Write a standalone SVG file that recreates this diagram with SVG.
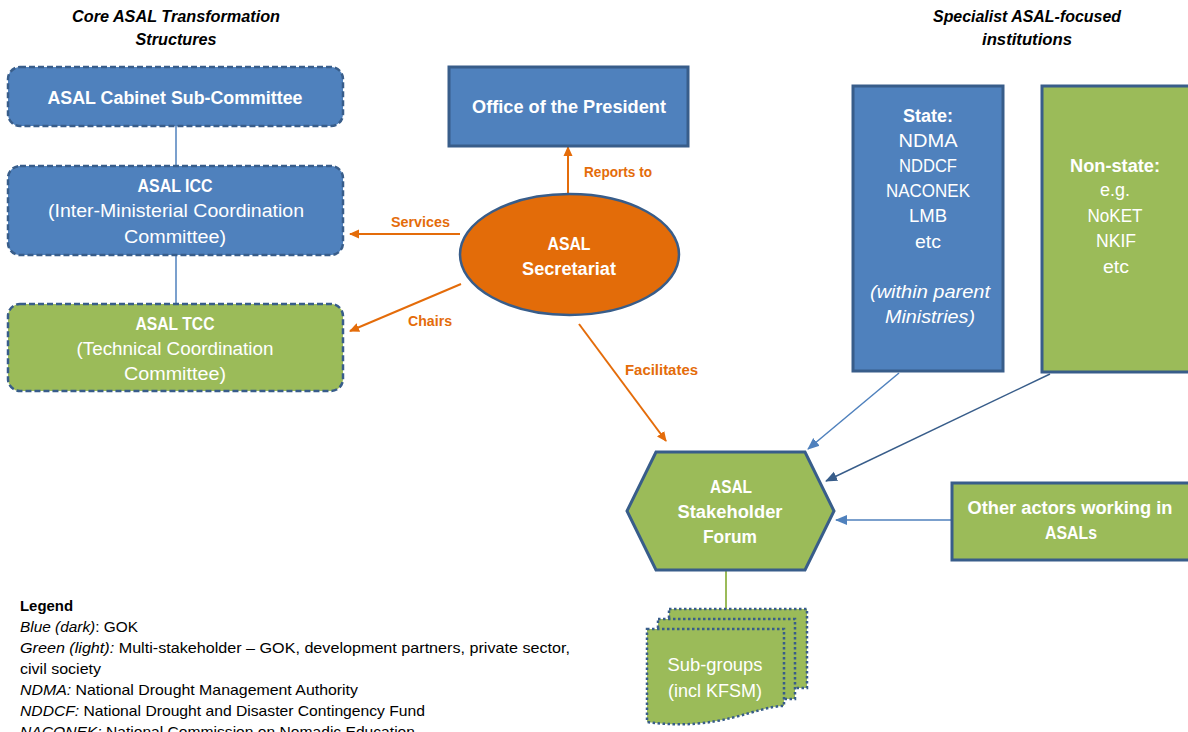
<svg xmlns="http://www.w3.org/2000/svg" width="1188" height="732" viewBox="0 0 1188 732">
<style>
text{font-family:"Liberation Sans",Arial,sans-serif;}
.t{font-size:18px;fill:#fff;text-anchor:middle;}
.b{font-weight:bold;}
.i{font-style:italic;}
.hdr{font-size:16px;font-weight:bold;font-style:italic;fill:#000;text-anchor:middle;}
.lbl{font-size:14px;font-weight:bold;fill:#E46C0A;}
.lg{font-size:14.5px;fill:#000;}
.dash{stroke:#385D8A;stroke-width:2.5;stroke-dasharray:6 3;}
.solid{stroke:#385D8A;stroke-width:3;}
.blue{fill:#4F81BD;}
.green{fill:#9BBB59;}
.dot{stroke:#385D8A;stroke-width:2.5;stroke-dasharray:2.5 2.5;}
</style>
<defs>
<marker id="ao" markerWidth="10" markerHeight="10" refX="9" refY="5" orient="auto" markerUnits="userSpaceOnUse"><path d="M0,0.5 L10,5 L0,9.5 Z" fill="#E46C0A"/></marker>
<marker id="ab" markerWidth="12" markerHeight="12" refX="11" refY="6" orient="auto" markerUnits="userSpaceOnUse"><path d="M0,1 L12,6 L0,11 Z" fill="#4F81BD"/></marker>
<marker id="ad" markerWidth="12" markerHeight="12" refX="11" refY="6" orient="auto" markerUnits="userSpaceOnUse"><path d="M0,1 L12,6 L0,11 Z" fill="#385D8A"/></marker>
</defs>

<g id="headers">
<text class="hdr" x="176" y="22" textLength="208" lengthAdjust="spacingAndGlyphs">Core ASAL Transformation</text>
<text class="hdr" x="176" y="45" textLength="81" lengthAdjust="spacingAndGlyphs">Structures</text>
<text class="hdr" x="1027" y="22" textLength="188" lengthAdjust="spacingAndGlyphs">Specialist ASAL-focused</text>
<text class="hdr" x="1027" y="45" textLength="90" lengthAdjust="spacingAndGlyphs">institutions</text>
</g>

<g id="connectors" fill="none">
<line x1="176" y1="126" x2="176" y2="166" stroke="#4F81BD" stroke-width="1.5"/>
<line x1="176" y1="255" x2="176" y2="304" stroke="#4F81BD" stroke-width="1.5"/>
<line x1="568" y1="194" x2="568" y2="147" stroke="#E46C0A" stroke-width="2" marker-end="url(#ao)"/>
<line x1="460" y1="234" x2="350" y2="234" stroke="#E46C0A" stroke-width="2" marker-end="url(#ao)"/>
<line x1="461" y1="284" x2="350" y2="331" stroke="#E46C0A" stroke-width="2" marker-end="url(#ao)"/>
<line x1="579" y1="324" x2="666" y2="441" stroke="#E46C0A" stroke-width="2" marker-end="url(#ao)"/>
<line x1="899" y1="373" x2="808" y2="449" stroke="#4F81BD" stroke-width="1.5" marker-end="url(#ab)"/>
<line x1="1050" y1="374" x2="826" y2="481" stroke="#385D8A" stroke-width="1.5" marker-end="url(#ad)"/>
<line x1="952" y1="520" x2="836" y2="520" stroke="#4F81BD" stroke-width="1.5" marker-end="url(#ab)"/>
<line x1="726" y1="571" x2="726" y2="609" stroke="#9BBB59" stroke-width="2"/>
<text class="lbl" x="584" y="177" textLength="68" lengthAdjust="spacingAndGlyphs">Reports to</text>
<text class="lbl" x="391" y="227" textLength="59" lengthAdjust="spacingAndGlyphs">Services</text>
<text class="lbl" x="408" y="326" textLength="44" lengthAdjust="spacingAndGlyphs">Chairs</text>
<text class="lbl" x="625" y="375" textLength="73" lengthAdjust="spacingAndGlyphs">Facilitates</text>
</g>

<g id="cabinet">
<rect x="8" y="67" width="335" height="59" rx="12" class="blue dash"/>
<text class="t b" x="175" y="104" textLength="255" lengthAdjust="spacingAndGlyphs">ASAL Cabinet Sub-Committee</text>
</g>

<g id="icc">
<rect x="8" y="166" width="335" height="89" rx="12" class="blue dash"/>
<text class="t b" x="175" y="192" textLength="75" lengthAdjust="spacingAndGlyphs">ASAL ICC</text>
<text class="t" x="176" y="217" textLength="256" lengthAdjust="spacingAndGlyphs">(Inter-Ministerial Coordination</text>
<text class="t" x="175" y="243" textLength="102" lengthAdjust="spacingAndGlyphs">Committee)</text>
</g>

<g id="tcc">
<rect x="8" y="304" width="335" height="87" rx="12" class="green dash"/>
<text class="t b" x="175" y="330" textLength="79" lengthAdjust="spacingAndGlyphs">ASAL TCC</text>
<text class="t" x="175" y="355" textLength="197" lengthAdjust="spacingAndGlyphs">(Technical Coordination</text>
<text class="t" x="175" y="380" textLength="102" lengthAdjust="spacingAndGlyphs">Committee)</text>
</g>

<g id="president">
<rect x="449" y="67" width="239" height="79" class="blue solid"/>
<text class="t b" x="569" y="113" textLength="194" lengthAdjust="spacingAndGlyphs">Office of the President</text>
</g>

<g id="secretariat">
<ellipse cx="569.5" cy="254.5" rx="109.5" ry="60.5" fill="#E36C09" stroke="#385D8A" stroke-width="2.5"/>
<text class="t b" x="569" y="250" textLength="43" lengthAdjust="spacingAndGlyphs">ASAL</text>
<text class="t b" x="569" y="275" textLength="94" lengthAdjust="spacingAndGlyphs">Secretariat</text>
</g>

<g id="state">
<rect x="853" y="86" width="150" height="285" class="blue solid"/>
<text class="t b" x="928" y="122" textLength="50" lengthAdjust="spacingAndGlyphs">State:</text>
<text class="t" x="928" y="147" textLength="59" lengthAdjust="spacingAndGlyphs">NDMA</text>
<text class="t" x="928" y="172" textLength="58" lengthAdjust="spacingAndGlyphs">NDDCF</text>
<text class="t" x="928" y="197" textLength="84" lengthAdjust="spacingAndGlyphs">NACONEK</text>
<text class="t" x="928" y="222" textLength="38" lengthAdjust="spacingAndGlyphs">LMB</text>
<text class="t" x="928" y="248" textLength="26" lengthAdjust="spacingAndGlyphs">etc</text>
<text class="t i" x="930" y="298" textLength="120" lengthAdjust="spacingAndGlyphs">(within parent</text>
<text class="t i" x="930" y="323" textLength="90" lengthAdjust="spacingAndGlyphs">Ministries)</text>
</g>

<g id="nonstate">
<rect x="1042" y="86" width="160" height="286" class="green solid"/>
<text class="t b" x="1115" y="172" textLength="90" lengthAdjust="spacingAndGlyphs">Non-state:</text>
<text class="t" x="1115" y="196" textLength="30" lengthAdjust="spacingAndGlyphs">e.g.</text>
<text class="t" x="1115" y="222" textLength="55" lengthAdjust="spacingAndGlyphs">NoKET</text>
<text class="t" x="1116" y="247" textLength="40" lengthAdjust="spacingAndGlyphs">NKIF</text>
<text class="t" x="1116" y="273" textLength="26" lengthAdjust="spacingAndGlyphs">etc</text>
</g>

<g id="forum">
<polygon points="656,452 805,452 834,511 805,570 656,570 627,511" class="green solid"/>
<text class="t b" x="731" y="493" textLength="42" lengthAdjust="spacingAndGlyphs">ASAL</text>
<text class="t b" x="730" y="518" textLength="105" lengthAdjust="spacingAndGlyphs">Stakeholder</text>
<text class="t b" x="730" y="543" textLength="54" lengthAdjust="spacingAndGlyphs">Forum</text>
</g>

<g id="other">
<rect x="952" y="483" width="250" height="77" class="green solid"/>
<text class="t b" x="1070" y="514" textLength="205" lengthAdjust="spacingAndGlyphs">Other actors working in</text>
<text class="t b" x="1071" y="539" textLength="52" lengthAdjust="spacingAndGlyphs">ASALs</text>
</g>

<g id="subgroups">
<rect x="669" y="609" width="138" height="79" class="green dot"/>
<rect x="658" y="619" width="137" height="80" class="green dot"/>
<path d="M647,629 H784 V706 C755,706 720,732 647,722 Z" class="green dot"/>
<text class="t" x="715" y="671" textLength="95" lengthAdjust="spacingAndGlyphs">Sub-groups</text>
<text class="t" x="715" y="697" textLength="94" lengthAdjust="spacingAndGlyphs">(incl KFSM)</text>
</g>

<g id="legend">
<text class="lg b" x="20" y="611" font-size="14" textLength="53" lengthAdjust="spacingAndGlyphs">Legend</text>
<text class="lg" x="20" y="632" textLength="118" lengthAdjust="spacingAndGlyphs"><tspan class="i">Blue (dark)</tspan>: GOK</text>
<text class="lg" x="20" y="653" textLength="550" lengthAdjust="spacingAndGlyphs"><tspan class="i">Green (light):</tspan> Multi-stakeholder – GOK, development partners, private sector,</text>
<text class="lg" x="20" y="674" textLength="81" lengthAdjust="spacingAndGlyphs">civil society</text>
<text class="lg" x="20" y="695" textLength="338" lengthAdjust="spacingAndGlyphs"><tspan class="i">NDMA:</tspan> National Drought Management Authority</text>
<text class="lg" x="20" y="716" textLength="405" lengthAdjust="spacingAndGlyphs"><tspan class="i">NDDCF:</tspan> National Drought and Disaster Contingency Fund</text>
<text class="lg" x="20" y="737" textLength="395" lengthAdjust="spacingAndGlyphs"><tspan class="i">NACONEK:</tspan> National Commission on Nomadic Education</text>
</g>
</svg>
